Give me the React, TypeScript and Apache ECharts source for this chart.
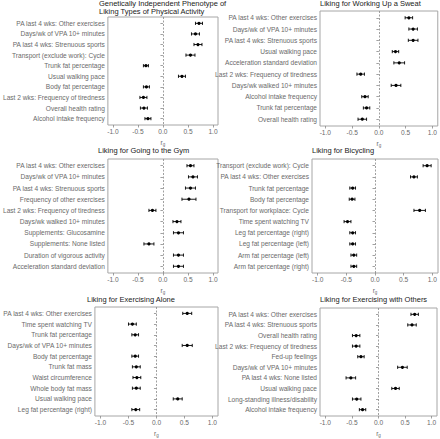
import React, { useEffect, useRef } from "react";
import * as echarts from "echarts";

// ---------- Data ----------
const P1_TITLE = "Genetically Independent Phenotype of\nLiking Types of Physical Activity";
const P1_LABELS = [
  "PA last 4 wks: Other exercises",
  "Days/wk of VPA 10+ minutes",
  "PA last 4 wks: Strenuous sports",
  "Transport (exclude work): Cycle",
  "Trunk fat percentage",
  "Usual walking pace",
  "Body fat percentage",
  "Last 2 wks: Frequency of tiredness",
  "Overall health rating",
  "Alcohol intake frequency",
];
const P1_EST = [0.72, 0.65, 0.7, 0.55, -0.34, 0.38, -0.33, -0.39, -0.38, -0.3];
const P1_ERR = [0.07, 0.08, 0.08, 0.09, 0.05, 0.07, 0.06, 0.07, 0.07, 0.06];

const P2_TITLE = "Liking for Working Up a Sweat";
const P2_LABELS = [
  "PA last 4 wks: Other exercises",
  "Days/wk of VPA 10+ minutes",
  "PA last 4 wks: Strenuous sports",
  "Usual walking pace",
  "Acceleration standard deviation",
  "Last 2 wks: Frequency of tiredness",
  "Days/wk walked 10+ minutes",
  "Alcohol intake frequency",
  "Trunk fat percentage",
  "Overall health rating",
];
const P2_EST = [0.56, 0.64, 0.64, 0.31, 0.38, -0.34, 0.32, -0.26, -0.23, -0.31];
const P2_ERR = [0.07, 0.08, 0.09, 0.06, 0.1, 0.07, 0.09, 0.06, 0.06, 0.08];

const P3_TITLE = "Liking for Going to the Gym";
const P3_LABELS = [
  "PA last 4 wks: Other exercises",
  "Days/wk of VPA 10+ minutes",
  "PA last 4 wks: Strenuous sports",
  "Frequency of other exercises",
  "Last 2 wks: Frequency of tiredness",
  "Days/wk walked 10+ minutes",
  "Supplements: Glucosamine",
  "Supplements: None listed",
  "Duration of vigorous activity",
  "Acceleration standard deviation",
];
const P3_EST = [0.55, 0.6, 0.55, 0.52, -0.21, 0.28, 0.31, -0.28, 0.31, 0.31];
const P3_ERR = [0.07, 0.09, 0.1, 0.14, 0.07, 0.08, 0.1, 0.1, 0.1, 0.1];

const P4_TITLE = "Liking for Bicycling";
const P4_LABELS = [
  "Transport (exclude work): Cycle",
  "PA last 4 wks: Other exercises",
  "Trunk fat percentage",
  "Body fat percentage",
  "Transport for workplace: Cycle",
  "Time spent watching TV",
  "Leg fat percentage (right)",
  "Leg fat percentage (left)",
  "Arm fat percentage (left)",
  "Arm fat percentage (right)",
];
const P4_EST = [0.91, 0.68, -0.39, -0.4, 0.78, -0.48, -0.39, -0.39, -0.37, -0.37];
const P4_ERR = [0.07, 0.06, 0.05, 0.05, 0.1, 0.06, 0.05, 0.05, 0.05, 0.05];

const P5_TITLE = "Liking for Exercising Alone";
const P5_LABELS = [
  "PA last 4 wks: Other exercises",
  "Time spent watching TV",
  "Trunk fat percentage",
  "Days/wk of VPA 10+ minutes",
  "Body fat percentage",
  "Trunk fat mass",
  "Waist circumference",
  "Whole body fat mass",
  "Usual walking pace",
  "Leg fat percentage (right)",
];
const P5_EST = [0.55, -0.43, -0.38, 0.55, -0.38, -0.36, -0.35, -0.36, 0.38, -0.37];
const P5_ERR = [0.08, 0.07, 0.06, 0.09, 0.06, 0.07, 0.07, 0.07, 0.08, 0.07];

const P6_TITLE = "Liking for Exercising with Others";
const P6_LABELS = [
  "PA last 4 wks: Other exercises",
  "PA last 4 wks: Strenuous sports",
  "Overall health rating",
  "Last 2 wks: Frequency of tiredness",
  "Fed-up feelings",
  "Days/wk of VPA 10+ minutes",
  "PA last 4 wks: None listed",
  "Usual walking pace",
  "Long-standing illness/disability",
  "Alcohol intake frequency",
];
const P6_EST = [0.68, 0.63, -0.42, -0.42, -0.33, 0.45, -0.52, 0.32, -0.41, -0.3];
const P6_ERR = [0.07, 0.08, 0.07, 0.07, 0.06, 0.09, 0.09, 0.07, 0.08, 0.06];

const X_TICKS = [-1, -0.5, 0, 0.5, 1];
const X_MIN = -1.1;
const X_MAX = 1.1;

// ---------- Layout ----------
const PANELS = [
  { title: P1_TITLE, labels: P1_LABELS, est: P1_EST, err: P1_ERR, left: 99, top: 17, width: 119, height: 108, titleTop: 0 },
  { title: P2_TITLE, labels: P2_LABELS, est: P2_EST, err: P2_ERR, left: 320, top: 11, width: 118, height: 115, titleTop: 0 },
  { title: P3_TITLE, labels: P3_LABELS, est: P3_EST, err: P3_ERR, left: 98, top: 159, width: 120, height: 114, titleTop: 147 },
  { title: P4_TITLE, labels: P4_LABELS, est: P4_EST, err: P4_ERR, left: 312, top: 159, width: 126, height: 114, titleTop: 147 },
  { title: P5_TITLE, labels: P5_LABELS, est: P5_EST, err: P5_ERR, left: 87, top: 307, width: 131, height: 114, titleTop: 296 },
  { title: P6_TITLE, labels: P6_LABELS, est: P6_EST, err: P6_ERR, left: 320, top: 308, width: 117, height: 114, titleTop: 296 },
];

const FONT = "Liberation Sans, Arial, sans-serif";
const AXIS_TEXT = "#6a6a6a";
const BORDER = "#a6a6a6";
const FS = 6.6;

export default function App() {
  const ref = useRef<HTMLDivElement>(null);

  useEffect(() => {
    if (!ref.current) return;
    const chart = echarts.init(ref.current, undefined, { renderer: "svg" });

    const titles: any[] = [];
    const grids: any[] = [];
    const xAxes: any[] = [];
    const yAxes: any[] = [];
    const series: any[] = [];
    const rowIdx = Array.from({ length: 10 }, (_, i) => i + 1);

    PANELS.forEach((p, i) => {
      titles.push({
        text: p.title,
        left: p.left,
        top: p.titleTop,
        padding: 0,
        textStyle: { fontFamily: FONT, fontSize: 7.5, fontWeight: "normal", color: "#222", lineHeight: 7.8 },
      });
      grids.push({
        left: p.left,
        top: p.top,
        width: p.width,
        height: p.height,
        show: true,
        borderColor: BORDER,
        borderWidth: 1,
        backgroundColor: "transparent",
      });
      xAxes.push({
        type: "value",
        gridIndex: i,
        min: X_MIN,
        max: X_MAX,
        splitLine: { show: false },
        axisLine: { show: false },
        axisTick: { show: true, customValues: X_TICKS, length: 2.5, lineStyle: { color: "#888", width: 0.8 } },
        axisLabel: {
          customValues: X_TICKS,
          formatter: (v: number) => v.toFixed(1),
          fontFamily: FONT,
          fontSize: FS,
          color: AXIS_TEXT,
          margin: 3,
        },
        name: "{r|r}{g|g}",
        nameLocation: "middle",
        nameGap: 13,
        nameTextStyle: {
          rich: {
            r: { fontFamily: FONT, fontSize: FS, color: AXIS_TEXT },
            g: { fontFamily: FONT, fontSize: 4.5, color: AXIS_TEXT, padding: [4, 0, 0, 0] },
          },
        },
      });
      yAxes.push({
        type: "value",
        gridIndex: i,
        min: 0.4,
        max: 10.6,
        inverse: true,
        splitLine: { show: false },
        axisLine: { show: false },
        axisTick: { show: true, customValues: rowIdx, length: 2.5, lineStyle: { color: "#888", width: 0.8 } },
        axisLabel: {
          customValues: rowIdx,
          formatter: (v: number) => p.labels[Math.round(v) - 1] ?? "",
          fontFamily: FONT,
          fontSize: FS,
          color: AXIS_TEXT,
          margin: 3,
        },
      });
      const data = p.est.map((e, k) => [e, e - p.err[k], e + p.err[k], k + 1]);
      series.push({
        type: "custom",
        xAxisIndex: i,
        yAxisIndex: i,
        data,
        encode: { x: [0, 1, 2], y: 3 },
        renderItem: (params: any, api: any) => {
          const y = api.value(3);
          const c = api.coord([api.value(0), y]);
          const lo = api.coord([api.value(1), y]);
          const hi = api.coord([api.value(2), y]);
          const cap = 1.6;
          const st = { stroke: "#000", lineWidth: 0.9 };
          return {
            type: "group",
            children: [
              { type: "line", shape: { x1: lo[0], y1: c[1], x2: hi[0], y2: c[1] }, style: st },
              { type: "line", shape: { x1: lo[0], y1: c[1] - cap, x2: lo[0], y2: c[1] + cap }, style: st },
              { type: "line", shape: { x1: hi[0], y1: c[1] - cap, x2: hi[0], y2: c[1] + cap }, style: st },
              { type: "circle", shape: { cx: c[0], cy: c[1], r: 1.6 }, style: { fill: "#000" } },
            ],
          };
        },
        markLine: {
          silent: true,
          symbol: "none",
          label: { show: false },
          lineStyle: { color: "#888", type: [2, 1.5], width: 0.8 },
          data: [{ xAxis: 0 }],
        },
      });
    });

    chart.setOption({
      animation: false,
      backgroundColor: "#fff",
      title: titles,
      grid: grids,
      xAxis: xAxes,
      yAxis: yAxes,
      series,
    });

    return () => chart.dispose();
  }, []);

  return (
    <div
      ref={ref}
      style={{ position: "fixed", left: 0, top: 0, width: 440, height: 439, background: "#fff" }}
    />
  );
}
